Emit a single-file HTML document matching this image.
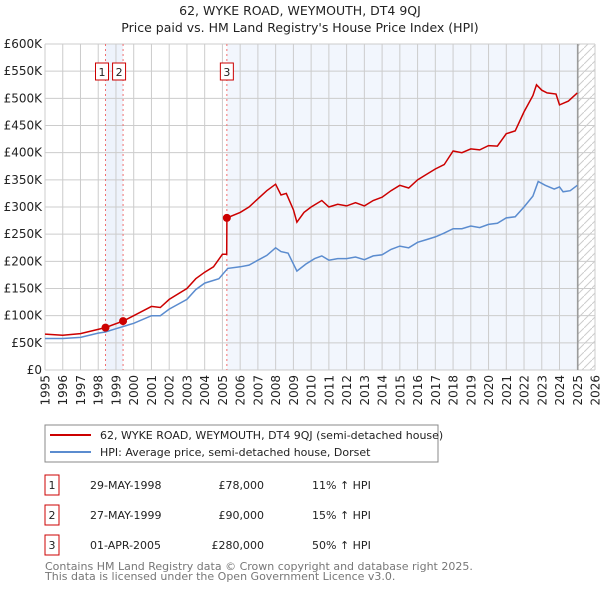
<!DOCTYPE html>
<html><head><meta charset="utf-8"><style>
body{margin:0;background:#fff;width:600px;height:590px;overflow:hidden;font-family:"DejaVu Sans","Liberation Sans",sans-serif;}
svg text{font-family:"DejaVu Sans","Liberation Sans",sans-serif;}
</style></head><body>
<svg id="chart" width="600" height="590" xmlns="http://www.w3.org/2000/svg">
<text x="300" y="15" text-anchor="middle" font-size="12.5" fill="#222">62, WYKE ROAD, WEYMOUTH, DT4 9QJ</text>
<text x="300" y="32" text-anchor="middle" font-size="12.5" fill="#222">Price paid vs. HM Land Registry's House Price Index (HPI)</text>
<g id="plot"></g>
<g>
<rect x="45" y="425" width="393" height="37" fill="#fff" stroke="#888"/>
<line x1="50" y1="435" x2="91" y2="435" stroke="#cc0000" stroke-width="2"/>
<text x="100" y="439" font-size="11" fill="#222">62, WYKE ROAD, WEYMOUTH, DT4 9QJ (semi-detached house)</text>
<line x1="50" y1="452" x2="91" y2="452" stroke="#5b8ccf" stroke-width="2"/>
<text x="100" y="456" font-size="11" fill="#222">HPI: Average price, semi-detached house, Dorset</text>
</g>
<g font-size="11" fill="#222">
<rect x="45" y="475" width="14" height="20" fill="#fff" stroke="#cc0000"/><text x="52" y="489" text-anchor="middle">1</text>
<text x="90" y="489">29-MAY-1998</text><text x="264" y="489" text-anchor="end">£78,000</text><text x="312" y="489">11% ↑ HPI</text>
<rect x="45" y="505" width="14" height="20" fill="#fff" stroke="#cc0000"/><text x="52" y="519" text-anchor="middle">2</text>
<text x="90" y="519">27-MAY-1999</text><text x="264" y="519" text-anchor="end">£90,000</text><text x="312" y="519">15% ↑ HPI</text>
<rect x="45" y="535" width="14" height="20" fill="#fff" stroke="#cc0000"/><text x="52" y="549" text-anchor="middle">3</text>
<text x="90" y="549">01-APR-2005</text><text x="264" y="549" text-anchor="end">£280,000</text><text x="312" y="549">50% ↑ HPI</text>
</g>
<text x="45" y="570" font-size="11" fill="#777">Contains HM Land Registry data © Crown copyright and database right 2025.</text>
<text x="45" y="580" font-size="11" fill="#777">This data is licensed under the Open Government Licence v3.0.</text>
</svg>
<script>
const hpiYears=[1995,1996,1997,1998,1998.4,1999,2000,2001,2001.5,2002,2003,2003.5,2004,2004.8,2005.3,2006,2006.5,2007,2007.5,2008,2008.3,2008.7,2009.2,2009.7,2010.2,2010.6,2011,2011.5,2012,2012.5,2013,2013.5,2014,2014.5,2015,2015.5,2016,2016.5,2017,2017.5,2018,2018.5,2019,2019.5,2020,2020.5,2021,2021.5,2022,2022.5,2022.8,2023.2,2023.7,2024,2024.2,2024.6,2025];
const hpiValues=[58,58,60,68,70,76,86,100,100,112,130,148,160,168,187,190,193,202,211,225,218,215,182,195,205,210,202,205,205,208,203,210,212,222,228,225,235,240,245,252,260,260,265,262,268,270,280,282,300,320,347,340,333,337,328,330,340];
const priceYears=[1995,1996,1997,1998.4,1999.4,2000,2001,2001.5,2002,2003,2003.5,2004,2004.5,2005,2005.24,2005.25,2006,2006.5,2007,2007.5,2008,2008.3,2008.6,2009,2009.2,2009.6,2010,2010.6,2011,2011.5,2012,2012.5,2013,2013.5,2014,2014.5,2015,2015.5,2016,2016.5,2017,2017.5,2018,2018.5,2019,2019.5,2020,2020.5,2021,2021.5,2022,2022.5,2022.7,2023,2023.3,2023.8,2024,2024.5,2025];
const priceValues=[66,64,67,78,90,100,117,115,130,150,168,180,190,213,213,280,290,300,315,330,342,322,325,295,272,290,300,312,300,305,302,308,302,312,318,330,340,335,350,360,370,378,403,400,407,405,413,412,435,440,475,505,525,515,510,508,488,495,510];
const saleYears=[1998.41,1999.40,2005.25];
const saleValues=[78,90,280];
const saleLabels=["1","2","3"];
const yTicks=[0,50,100,150,200,250,300,350,400,450,500,550,600];
const yTickLabels=["£0","£50K","£100K","£150K","£200K","£250K","£300K","£350K","£400K","£450K","£500K","£550K","£600K"];
const xTicks=[1995,1996,1997,1998,1999,2000,2001,2002,2003,2004,2005,2006,2007,2008,2009,2010,2011,2012,2013,2014,2015,2016,2017,2018,2019,2020,2021,2022,2023,2024,2025,2026];

const L=45,R=595,T=44,B=370,x0=1995,x1=2026,yMax=600,dataEnd=2025.03;
const X=v=>L+(v-x0)/(x1-x0)*(R-L);
const Y=v=>B-v/yMax*(B-T);
const NS="http://www.w3.org/2000/svg";
const g=document.getElementById('plot');
function mk(tag,attrs,parent){const e=document.createElementNS(NS,tag);for(const k in attrs)e.setAttribute(k,attrs[k]);(parent||g).appendChild(e);return e;}

let e;
e=mk('rect',{x:X(saleYears[0]),y:T,width:X(saleYears[1])-X(saleYears[0]),height:B-T,fill:'#eef3fc'});


e=mk('rect',{x:X(saleYears[2]),y:T,width:X(dataEnd)-X(saleYears[2]),height:B-T,fill:'#f2f6fd'});


const defs=mk('defs',{});
const pat=mk('pattern',{id:'hatch',width:8,height:8,patternUnits:'userSpaceOnUse'},defs);
mk('line',{x1:0,y1:8,x2:8,y2:0,stroke:'#ccc','stroke-width':1},pat);
e=mk('rect',{x:X(dataEnd),y:T,width:R-X(dataEnd),height:B-T,fill:'url(#hatch)'});



xTicks.forEach(t=>{
 const l=mk('line',{x1:X(t),x2:X(t),y1:T,y2:B,stroke:'#ccc','stroke-width':1});
 
 
 const tx=mk('text',{x:0,y:0,'text-anchor':'end','font-size':12,fill:'#222',transform:'translate('+(X(t)+4.5).toFixed(1)+','+(B+5)+') rotate(-90)'});
 tx.textContent=t;
 
 
});
yTicks.forEach((t,i)=>{
 const l=mk('line',{x1:L,x2:R,y1:Y(t),y2:Y(t),stroke:'#ccc','stroke-width':1});
 
 
 const tx=mk('text',{x:L-3,y:Y(t)+4,'text-anchor':'end','font-size':12,fill:'#222'});
 tx.textContent=yTickLabels[i];
 
 
});
e=mk('line',{x1:X(dataEnd),x2:X(dataEnd),y1:T,y2:B,stroke:'#999','stroke-width':1.5});



const badgeOff=[-3.5,-4,0];
saleYears.forEach((s,i)=>{
 const l=mk('line',{x1:X(s),x2:X(s),y1:T,y2:B,stroke:'#f07070','stroke-width':1,'stroke-dasharray':'2,3'});
 
 
 const cx=X(s)+badgeOff[i];
 const r=mk('rect',{x:cx-6.5,y:63,width:13,height:17,fill:'#fff',stroke:'#cc0000'});
 
 
 const tx=mk('text',{x:cx,y:76,'text-anchor':'middle','font-size':11,fill:'#222'});
 tx.textContent=saleLabels[i];
 
 
});

function path(xs,vs){return xs.map((x,i)=>(i?'L':'M')+X(x).toFixed(1)+','+Y(vs[i]).toFixed(1)).join('');}
e=mk('path',{d:path(hpiYears,hpiValues),fill:'none',stroke:'#5b8ccf','stroke-width':1.5});


e=mk('path',{d:path(priceYears,priceValues),fill:'none',stroke:'#cc0000','stroke-width':1.5});


saleYears.forEach((s,i)=>{
 const c=mk('circle',{cx:X(s),cy:Y(saleValues[i]),r:4,fill:'#cc0000'});
 
 
});
</script>
</body></html>
